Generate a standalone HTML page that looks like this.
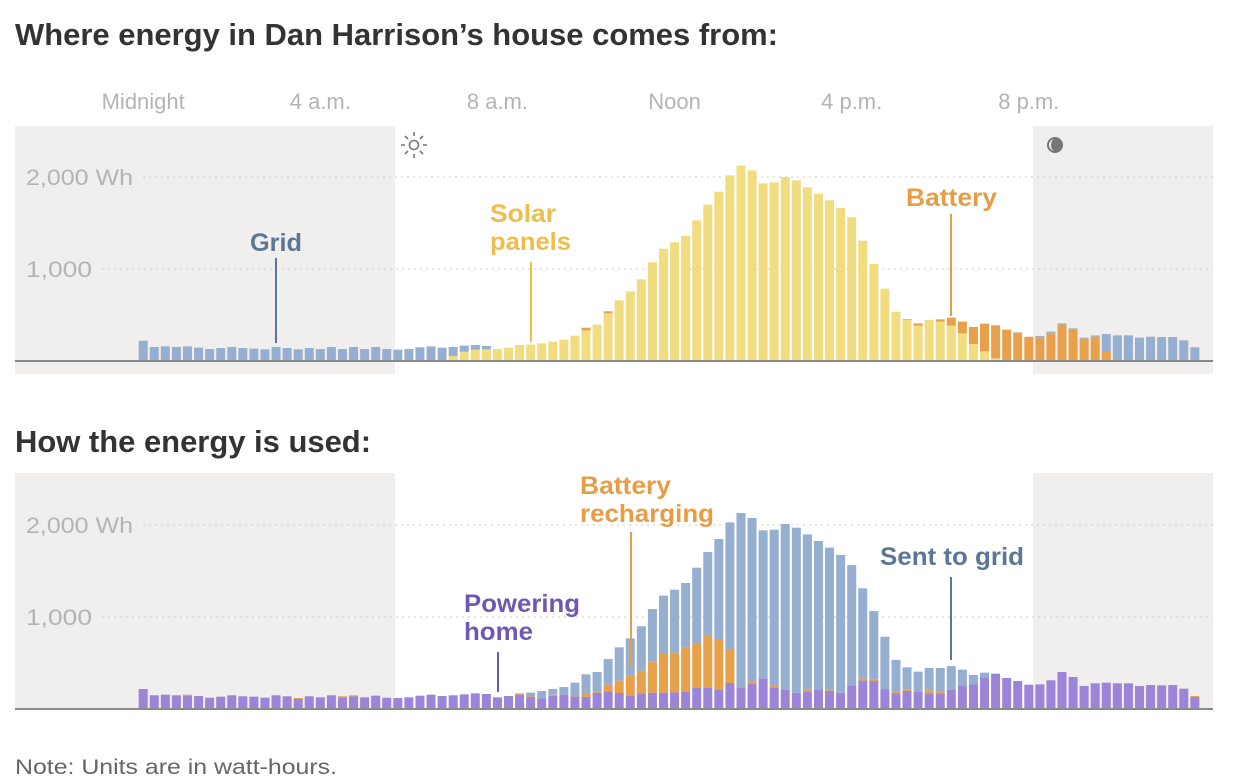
<!DOCTYPE html>
<html><head><meta charset="utf-8"><style>
html,body{margin:0;padding:0;background:#fff;}
svg{display:block;font-family:"Liberation Sans",sans-serif;}
.ttl{font-weight:bold;font-size:31px;fill:#333;}
.tick{font-size:22px;fill:#b4b4b4;}
.lbl{font-weight:bold;font-size:25px;}
</style></head><body>
<svg id="c" width="1236" height="780" viewBox="0 0 1236 780">
<text class="ttl" x="15" y="45" textLength="763" lengthAdjust="spacingAndGlyphs">Where energy in Dan Harrison’s house comes from:</text>
<g id="xticks"></g>
<rect x="15" y="126" width="380" height="248" fill="#f0efed"/>
<rect x="1033" y="126" width="180" height="248" fill="#f0efed"/>
<g stroke="#777" stroke-width="1.6" fill="none">
<circle cx="414" cy="145" r="4.5"/>
<path d="M414 132v4M414 154v4M401 145h4M423 145h4M405 136l3 3M420 151l3 3M423 136l-3 3M405 154l3-3"/>
</g>
<g>
<circle cx="1055" cy="145" r="8" fill="#777"/><path d="M1055 139a6 6 0 0 0 0 12a4 6 0 0 1 0-12z" fill="#f0efed"/>
</g>
<text class="ttl" x="15" y="452" textLength="356" lengthAdjust="spacingAndGlyphs">How the energy is used:</text>
<rect x="15" y="473" width="380" height="236" fill="#f0efed"/>
<rect x="1033" y="473" width="180" height="236" fill="#f0efed"/>
<g id="grid"></g>
<g id="topbars"></g>
<g id="botbars"></g>
<line x1="15" y1="361" x2="1213" y2="361" stroke="#8a8a8a" stroke-width="2"/>
<line x1="15" y1="709" x2="1213" y2="709" stroke="#8a8a8a" stroke-width="2"/>
<g><text class="lbl" x="250" y="251" textLength="52" lengthAdjust="spacingAndGlyphs" fill="#5b7696">Grid</text><line x1="276" y1="258" x2="276" y2="343" stroke="#5b7696" stroke-width="2"/></g>
<g><text class="lbl" x="490" y="222" textLength="66" lengthAdjust="spacingAndGlyphs" fill="#efbd4a">Solar</text><text class="lbl" x="490" y="250" textLength="81" lengthAdjust="spacingAndGlyphs" fill="#efbd4a">panels</text><line x1="531" y1="262" x2="531" y2="342" stroke="#efbd4a" stroke-width="2"/></g>
<g><text class="lbl" x="906" y="206" textLength="91" lengthAdjust="spacingAndGlyphs" fill="#e69d45">Battery</text><line x1="951" y1="214" x2="951" y2="316" stroke="#e69d45" stroke-width="2"/></g>
<g><text class="lbl" x="580" y="494" textLength="91" lengthAdjust="spacingAndGlyphs" fill="#e69d45">Battery</text><text class="lbl" x="580" y="522" textLength="134" lengthAdjust="spacingAndGlyphs" fill="#e69d45">recharging</text><line x1="631" y1="532" x2="631" y2="668" stroke="#e69d45" stroke-width="2"/></g>
<g><text class="lbl" x="464" y="612" textLength="116" lengthAdjust="spacingAndGlyphs" fill="#7257b1">Powering</text><text class="lbl" x="464" y="640" textLength="69" lengthAdjust="spacingAndGlyphs" fill="#7257b1">home</text><line x1="498" y1="652" x2="498" y2="692" stroke="#7257b1" stroke-width="2"/></g>
<g><text class="lbl" x="880" y="565" textLength="144" lengthAdjust="spacingAndGlyphs" fill="#5b7696">Sent to grid</text><line x1="951" y1="577" x2="951" y2="660" stroke="#5b7696" stroke-width="2"/></g>
<text x="15" y="774" font-size="21" fill="#666" textLength="322" lengthAdjust="spacingAndGlyphs">Note: Units are in watt-hours.</text>
</svg>
<script>
const timeLabels=["Midnight","4 a.m.","8 a.m.","Noon","4 p.m.","8 p.m."];
const timeHours=[0,4,8,12,16,20];
const yTicks=[1000,2000];
const yTickLabels=["1,000","2,000 Wh"];
const srcGrid=[221,152,159,152,159,145,130,141,152,141,134,127,152,141,127,141,130,152,130,152,130,152,130,123,130,149,159,138,98,66,51,36,0,0,0,0,0,0,0,0,0,0,0,0,0,0,0,0,0,0,0,0,0,0,0,0,0,0,0,0,0,0,0,0,0,0,0,0,0,0,0,0,0,0,0,0,0,0,4,4,0,14,18,14,11,11,14,184,279,279,254,264,261,261,225,149];
const srcSolar=[0,0,0,0,0,0,0,0,0,0,0,0,0,0,0,0,0,0,0,0,0,0,0,0,0,0,0,7,54,101,123,127,130,145,174,178,192,210,232,275,333,395,518,659,757,888,1072,1221,1290,1362,1529,1699,1840,2018,2123,2072,1931,1942,2000,1964,1888,1819,1746,1663,1562,1308,1054,786,536,449,384,446,428,384,301,185,105,29,11,0,0,0,0,0,0,0,0,0,0,0,0,0,0,0,0,0];
const srcBattery=[0,0,0,0,0,0,0,0,0,0,0,0,0,0,0,0,0,0,0,0,0,0,0,0,0,0,0,0,0,0,0,0,0,0,0,0,0,0,0,0,29,0,22,0,0,0,0,0,0,0,0,0,0,0,0,0,0,0,0,0,0,0,0,0,0,0,0,0,0,7,25,0,25,87,127,185,301,359,326,308,264,257,301,395,344,243,264,109,0,0,0,0,0,0,0,0];
const useHome=[217,149,156,149,145,141,123,134,149,138,134,123,149,138,109,138,127,149,127,138,127,145,123,120,127,145,156,141,149,159,170,163,127,141,156,134,116,145,152,138,134,177,192,174,145,170,177,177,181,192,232,232,214,283,236,279,333,236,207,177,192,214,199,177,257,312,304,212,172,196,192,170,170,210,257,268,344,384,337,304,264,268,312,402,348,250,279,286,279,279,250,261,257,261,221,130];
const useRecharge=[0,0,0,0,11,0,0,0,0,0,0,0,0,0,11,0,0,0,11,11,0,0,0,0,0,0,0,0,0,0,0,0,0,0,14,7,0,11,0,14,40,11,72,134,221,247,337,421,431,475,485,572,547,369,0,22,0,18,0,0,25,0,18,0,0,22,14,0,14,14,0,33,22,0,0,0,0,0,0,0,0,0,0,0,0,0,0,0,0,0,0,0,0,0,0,11];
const useSent=[0,0,0,0,0,0,0,0,0,0,0,0,0,0,0,0,0,0,0,0,0,0,0,0,0,0,0,0,0,0,0,0,0,0,0,37,80,62,87,134,203,214,279,362,402,482,573,634,685,703,819,902,1087,1377,1894,1775,1609,1695,1804,1794,1681,1612,1537,1497,1308,978,747,573,348,243,214,243,254,257,171,102,51,0,0,0,0,0,0,0,0,0,0,0,0,0,0,0,0,0,0,0];

const NS="http://www.w3.org/2000/svg";
const x0=138.7, step=11.07, bw=9, k=0.092;
function xBar(i){return x0+step*i;}
function xHour(h){return x0+bw/2+step*4*h;}
function yTop(v){return 361-v*k;}
function yBot(v){return 709-v*k;}
function mk(tag,attrs,parent){const e=document.createElementNS(NS,tag);for(const a in attrs)e.setAttribute(a,attrs[a]);parent.appendChild(e);return e;}

const xt=document.getElementById('xticks');
timeLabels.forEach((t,j)=>{
 const e=mk('text',{x:xHour(timeHours[j]),y:109,'text-anchor':'middle',class:'tick'},xt);
 e.textContent=t;
 
 
});
const gg=document.getElementById('grid');
[yTop,yBot].forEach(fy=>{
 yTicks.forEach((v,j)=>{
  const lbl=yTickLabels[j];
  const tw=lbl.length>5?107:66;
  const l=mk('line',{x1:26+tw+10,x2:1213,y1:fy(v),y2:fy(v),stroke:'#d6d6d6','stroke-width':1.2,'stroke-dasharray':'2 4'},gg);
  
  
  const t=mk('text',{x:26,y:fy(v)+8,class:'tick',fill:'#bdbdbd',textLength:tw,lengthAdjust:'spacingAndGlyphs'},gg);
  t.textContent=lbl;
  
  
 });
});
function stack(gid,fy,series,colors,names){
 const g=document.getElementById(gid);
 for(let i=0;i<series[0].length;i++){
  let acc=0;
  series.forEach((s,si)=>{
   const v=s[i]; if(!v)return;
   const r=mk('rect',{x:xBar(i),y:fy(acc+v),width:bw,height:fy(acc)-fy(acc+v),fill:colors[si]},g);
   
   
   acc+=v;
  });
 }
}
stack('topbars',yTop,[srcSolar,srcBattery,srcGrid],['#f1dd7f','#e8a14a','#96afd1'],['bar-solar','bar-battery','bar-grid']);
stack('botbars',yBot,[useHome,useRecharge,useSent],['#9c84d8','#e8a14a','#96afd1'],['bar-home','bar-recharge','bar-sent']);
</script>
</body></html>
